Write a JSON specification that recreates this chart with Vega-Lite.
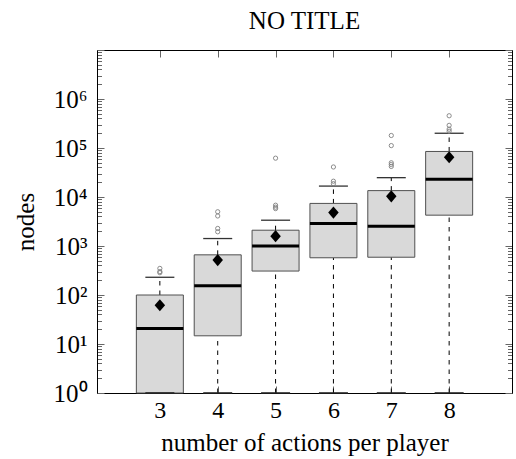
{
  "$schema": "https://vega.github.io/schema/vega-lite/v6.json",
  "width": 415,
  "height": 343,
  "autosize": "none",
  "padding": {"left": 97, "top": 50, "right": 4, "bottom": 66},
  "background": "white",
  "title": {
    "text": "NO TITLE",
    "font": "Liberation Serif",
    "fontSize": 25,
    "fontWeight": "normal",
    "color": "black",
    "offset": 16
  },
  "config": {
    "view": {"stroke": null},
    "axis": {
      "grid": false,
      "domainColor": "black",
      "domainWidth": 1,
      "tickColor": "#666666",
      "tickWidth": 1,
      "labelFont": "Liberation Serif",
      "labelColor": "black",
      "titleFont": "Liberation Serif",
      "titleFontWeight": "normal",
      "titleColor": "black"
    }
  },
  "datasets": {
    "boxes": [
      {"n": 3, "lo": 1, "q1": 1, "med": 20.6, "q3": 100, "hi": 230, "mean": 62},
      {"n": 4, "lo": 1, "q1": 14.7, "med": 155, "q3": 660, "hi": 1420, "mean": 515},
      {"n": 5, "lo": 1, "q1": 308, "med": 1000, "q3": 2100, "hi": 3360, "mean": 1590},
      {"n": 6, "lo": 1, "q1": 575, "med": 2880, "q3": 7400, "hi": 16700, "mean": 4800},
      {"n": 7, "lo": 1, "q1": 590, "med": 2530, "q3": 13500, "hi": 24800, "mean": 10300},
      {"n": 8, "lo": 1, "q1": 4260, "med": 23000, "q3": 85000, "hi": 200000, "mean": 65000}
    ],
    "outliers": [
      {"n": 3, "v": 349}, {"n": 3, "v": 300}, {"n": 3, "v": 285},
      {"n": 4, "v": 5000}, {"n": 4, "v": 4100}, {"n": 4, "v": 2280}, {"n": 4, "v": 1950},
      {"n": 5, "v": 62000}, {"n": 5, "v": 6800}, {"n": 5, "v": 6200}, {"n": 5, "v": 5800},
      {"n": 6, "v": 41000}, {"n": 6, "v": 21000}, {"n": 6, "v": 18700},
      {"n": 7, "v": 180000}, {"n": 7, "v": 112000}, {"n": 7, "v": 50000}, {"n": 7, "v": 46000}, {"n": 7, "v": 42000},
      {"n": 8, "v": 455000}, {"n": 8, "v": 290000}, {"n": 8, "v": 242000}, {"n": 8, "v": 220000}
    ]
  },
  "layer": [
    {
      "data": {"name": "boxes"},
      "mark": {"type": "rule", "color": "black", "strokeWidth": 1, "strokeDash": [4.5, 5]},
      "encoding": {
        "x": {"field": "n", "type": "quantitative", "scale": {"domain": [2, 9], "nice": false, "zero": false}, "axis": null},
        "y": {"field": "lo", "type": "quantitative", "scale": {"type": "log", "domain": [1, 10000000], "nice": false}, "axis": null},
        "y2": {"field": "q1"}
      }
    },
    {
      "data": {"name": "boxes"},
      "mark": {"type": "rule", "color": "black", "strokeWidth": 1, "strokeDash": [4.5, 5]},
      "encoding": {
        "x": {"field": "n", "type": "quantitative", "axis": null},
        "y": {"field": "q3", "type": "quantitative", "axis": null},
        "y2": {"field": "hi"}
      }
    },
    {
      "data": {"name": "boxes"},
      "mark": {"type": "bar", "width": 47, "fill": "#d9d9d9", "stroke": "#505050", "strokeWidth": 1, "opacity": 1},
      "encoding": {
        "x": {
          "field": "n", "type": "quantitative",
          "axis": {
            "orient": "bottom",
            "values": [3, 4, 5, 6, 7, 8],
            "tickSize": -7,
            "labelFontSize": 24,
            "labelPadding": 12.5,
            "title": "number of actions per player",
            "titleFontSize": 25,
            "titlePadding": 8
          }
        },
        "y": {
          "field": "q1", "type": "quantitative",
          "axis": {
            "orient": "left",
            "values": [1, 2, 3, 4, 5, 6, 7, 8, 9, 10, 20, 30, 40, 50, 60, 70, 80, 90, 100, 200, 300, 400, 500, 600, 700, 800, 900, 1000, 2000, 3000, 4000, 5000, 6000, 7000, 8000, 9000, 10000, 20000, 30000, 40000, 50000, 60000, 70000, 80000, 90000, 100000, 200000, 300000, 400000, 500000, 600000, 700000, 800000, 900000, 1000000, 2000000, 3000000, 4000000, 5000000, 6000000, 7000000, 8000000, 9000000, 10000000],
            "labelExpr": "abs(log(datum.value)/LN10 - round(log(datum.value)/LN10)) < 0.000001 && datum.value < 5000000 ? '10' + ['⁰','¹','²','³','⁴','⁵','⁶','⁷'][round(log(datum.value)/LN10)] : ''",
            "tickSize": {"condition": {"test": "abs(log(datum.value)/LN10 - round(log(datum.value)/LN10)) < 0.000001", "value": -7}, "value": -4.5},
            "labelFontSize": 25,
            "labelPadding": 17,
            "labelBaseline": "middle",
            "title": "nodes",
            "titleFontSize": 25,
            "titlePadding": 15
          }
        },
        "y2": {"field": "q3"}
      }
    },
    {
      "data": {"name": "boxes"},
      "mark": {"type": "tick", "orient": "horizontal", "size": 29, "thickness": 1.3, "color": "#333333", "opacity": 1},
      "encoding": {
        "x": {"field": "n", "type": "quantitative", "axis": null},
        "y": {"field": "hi", "type": "quantitative", "axis": null}
      }
    },
    {
      "data": {"name": "boxes"},
      "mark": {"type": "tick", "orient": "horizontal", "size": 29, "thickness": 1.6, "color": "#222222", "opacity": 1},
      "encoding": {
        "x": {"field": "n", "type": "quantitative", "axis": null},
        "y": {"field": "lo", "type": "quantitative", "axis": null}
      }
    },
    {
      "data": {"name": "boxes"},
      "mark": {"type": "tick", "orient": "horizontal", "size": 47, "thickness": 3, "color": "black", "opacity": 1},
      "encoding": {
        "x": {"field": "n", "type": "quantitative", "axis": null},
        "y": {"field": "med", "type": "quantitative", "axis": null}
      }
    },
    {
      "data": {"name": "boxes"},
      "mark": {"type": "point", "shape": "M0,-1.15L1,0L0,1.15L-1,0Z", "size": 110, "filled": true, "color": "black", "opacity": 1},
      "encoding": {
        "x": {"field": "n", "type": "quantitative", "axis": null},
        "y": {"field": "mean", "type": "quantitative", "axis": null}
      }
    },
    {
      "data": {"name": "outliers"},
      "mark": {"type": "point", "shape": "circle", "size": 18, "filled": false, "stroke": "#808080", "strokeWidth": 0.9, "opacity": 1},
      "encoding": {
        "x": {
          "field": "n", "type": "quantitative",
          "axis": {"orient": "top", "values": [3, 4, 5, 6, 7, 8], "tickSize": -7, "labels": false, "title": null}
        },
        "y": {
          "field": "v", "type": "quantitative",
          "axis": {
            "orient": "right",
            "values": [1, 2, 3, 4, 5, 6, 7, 8, 9, 10, 20, 30, 40, 50, 60, 70, 80, 90, 100, 200, 300, 400, 500, 600, 700, 800, 900, 1000, 2000, 3000, 4000, 5000, 6000, 7000, 8000, 9000, 10000, 20000, 30000, 40000, 50000, 60000, 70000, 80000, 90000, 100000, 200000, 300000, 400000, 500000, 600000, 700000, 800000, 900000, 1000000, 2000000, 3000000, 4000000, 5000000, 6000000, 7000000, 8000000, 9000000, 10000000],
            "tickSize": {"condition": {"test": "abs(log(datum.value)/LN10 - round(log(datum.value)/LN10)) < 0.000001", "value": -7}, "value": -4.5},
            "labels": false,
            "title": null
          }
        }
      }
    }
  ],
  "resolve": {"axis": {"x": "independent", "y": "independent"}}
}
